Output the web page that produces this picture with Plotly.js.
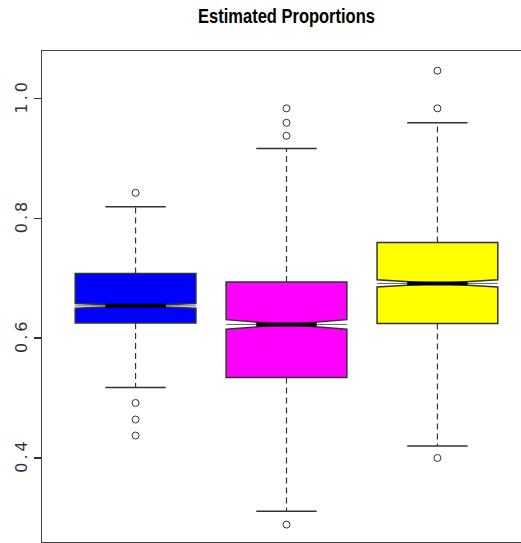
<!DOCTYPE html>
<html><head><meta charset="utf-8">
<script src="https://cdn.plot.ly/plotly-3.0.1.min.js"></script>
<style>
html,body{margin:0;padding:0;overflow:hidden;background:#fff;width:521px;height:543px}
#chart{width:560px;height:543px}
.ytick text{letter-spacing:3px}
</style></head><body><div id="chart"></div>
<script>
// ---- data ----
const positions = [1, 2, 3];
const fills = ['#0000FF', '#FF00FF', '#FFFF00'];
const q1 = [0.6255, 0.5343, 0.6245];
const med = [0.654, 0.6229, 0.6914];
const q3 = [0.708, 0.694, 0.760];
const lowerWhisker = [0.5176, 0.3108, 0.4200];
const upperWhisker = [0.8194, 0.9170, 0.9598];
const notchSpan = [0.004, 0.008, 0.006];
const outliersBlue = [0.8428, 0.4918, 0.4641, 0.4373];
const outliersMagenta = [0.9839, 0.9598, 0.9381, 0.2886];
const outliersYellow = [1.0468, 0.9839, 0.3999];
const outliers = [outliersBlue, outliersMagenta, outliersYellow];
const yTicks = [0.4, 0.6, 0.8, 1.0];
const yTickLabels = ['0.4', '0.6', '0.8', '1.0'];
const titleText = 'Estimated Proportions';

// ---- styling ----
const BOXW = 0.8;
const HALF_BOX = BOXW / 2;
const HALF_INNER = BOXW / 4;
const edge = '#333';
const TITLE_SIZE = 16.5;

const traces = [];
positions.forEach((p, i) => {
  traces.push({
    type: 'scatter', mode: 'lines', hoverinfo: 'skip', showlegend: false,
    x: [p, p, null, p, p],
    y: [q3[i], upperWhisker[i], null, q1[i], lowerWhisker[i]],
    line: {color: edge, width: 1.2, dash: '6px,4px'}
  });
});
positions.forEach((p, i) => {
  traces.push({
    type: 'box', x: [p], q1: [q1[i]], median: [med[i]], q3: [q3[i]],
    lowerfence: [q1[i]], upperfence: [q3[i]],
    notched: true, notchspan: [notchSpan[i]], notchwidth: 0.5,
    width: BOXW, whiskerwidth: 0, boxpoints: false,
    fillcolor: fills[i], line: {color: edge, width: 1.5},
    hoverinfo: 'skip', showlegend: false
  });
});
positions.forEach((p, i) => {
  // thin median line across the notch
  traces.push({
    type: 'scatter', mode: 'lines', hoverinfo: 'skip', showlegend: false,
    x: [p - HALF_BOX, p + HALF_BOX], y: [med[i], med[i]],
    line: {color: '#666', width: 1}
  });
  // thick median
  traces.push({
    type: 'scatter', mode: 'lines', hoverinfo: 'skip', showlegend: false,
    x: [p - HALF_INNER, p + HALF_INNER], y: [med[i], med[i]],
    line: {color: '#000', width: 4}
  });
  traces.push({
    type: 'scatter', mode: 'lines', hoverinfo: 'skip', showlegend: false,
    x: [p - HALF_INNER, p + HALF_INNER, null, p - HALF_INNER, p + HALF_INNER],
    y: [upperWhisker[i], upperWhisker[i], null, lowerWhisker[i], lowerWhisker[i]],
    line: {color: edge, width: 1.5}
  });
  traces.push({
    type: 'scatter', mode: 'markers', hoverinfo: 'skip', showlegend: false,
    x: outliers[i].map(() => p), y: outliers[i],
    marker: {symbol: 'circle-open', size: 7, color: edge, line: {width: 1}}
  });
});

const layout = {
  width: 560, height: 543,
  margin: {l: 42, r: 29, t: 51, b: 1},
  paper_bgcolor: '#fff', plot_bgcolor: '#fff',
  showlegend: false, hovermode: false,
  title: {
    text: titleText, x: 0.5, xref: 'paper', xanchor: 'center',
    y: 1 - 6 / 543, yref: 'container', yanchor: 'top',
    font: {family: '"Liberation Sans", Arial, sans-serif', size: TITLE_SIZE, weight: 'bold', color: '#000'}
  },
  xaxis: {
    range: [0.38, 3.62], showticklabels: false, ticks: '', showgrid: false, zeroline: false,
    showline: true, mirror: true, linecolor: '#444', linewidth: 1.5
  },
  yaxis: {
    range: [0.2595, 1.0797], tickvals: yTicks, ticktext: yTickLabels,
    ticks: 'outside', ticklen: 7, tickwidth: 1.5, tickcolor: '#333', tickangle: -90,
    tickfont: {family: '"DejaVu Sans", sans-serif', size: 16, color: '#333'},
    showgrid: false, zeroline: false,
    showline: true, mirror: true, linecolor: '#444', linewidth: 1.5
  }
};

Plotly.newPlot('chart', traces, layout, {staticPlot: true, displayModeBar: false}).then(gd => {
  // the reference title is drawn tall and narrow: stretch it vertically about its baseline
  const t = gd.querySelector('.gtitle');
  if (t) {
    const bb = t.getBBox();
    const baseline = bb.y + 0.905 * TITLE_SIZE;
    t.setAttribute('transform', `translate(0,23) scale(1,1.28) translate(0,${-baseline})`);
  }
});
</script></body></html>
